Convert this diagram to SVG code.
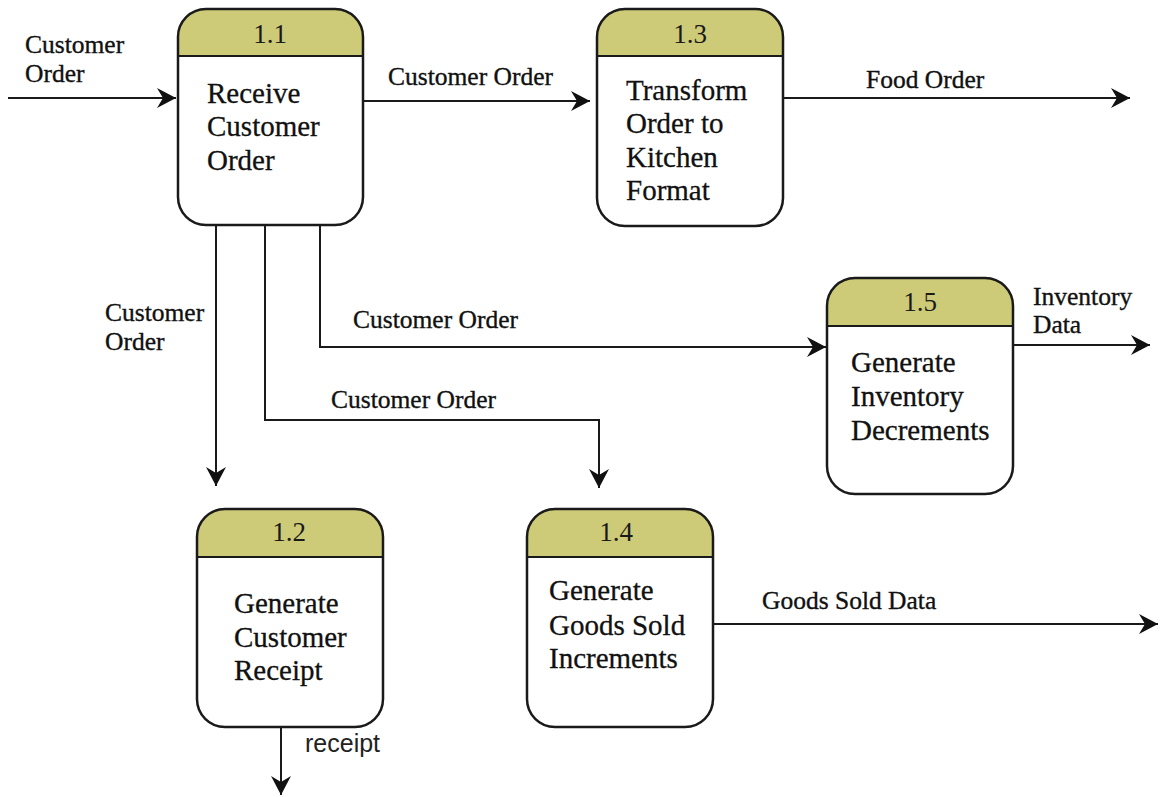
<svg xmlns="http://www.w3.org/2000/svg" width="1161" height="797" viewBox="0 0 1161 797">
<style>
.box{fill:none;stroke:#1a1a1a;stroke-width:2.5}
.bg{fill:#fff}
.hd{fill:#cdcb78}
.sep{stroke:#1a1a1a;stroke-width:2}
.num{font-family:"Liberation Serif","Times New Roman",serif;font-size:27px;fill:#1a1a1a;text-anchor:middle}
.nt{font-family:"Liberation Serif","Times New Roman",serif;font-size:29px;fill:#111;stroke:#111;stroke-width:0.3}
.lb{font-family:"Liberation Serif","Times New Roman",serif;font-size:25.5px;fill:#111;stroke:#111;stroke-width:0.35}
.ls{font-family:"Liberation Sans",Arial,sans-serif;font-size:25px;fill:#222}
.ln{fill:none;stroke:#1a1a1a;stroke-width:2;marker-end:url(#ah)}
</style>
<defs>
<marker id="ah" markerUnits="userSpaceOnUse" viewBox="-19 -11 20 22" refX="0" refY="0" markerWidth="20" markerHeight="22" orient="auto">
<path d="M-19,-10 L0,0 L-19,10 L-13,0 Z" fill="#111"/>
</marker>
</defs>
<rect width="1161" height="797" fill="#fff"/>

<g id="connectors">
<path class="ln" d="M8,98 H176"/>
<path class="ln" d="M363,101 H590"/>
<path class="ln" d="M783,98 H1130"/>
<path class="ln" d="M216,225 V486"/>
<path class="ln" d="M265,225 V420 H599 V488"/>
<path class="ln" d="M320,225 V347 H826"/>
<path class="ln" d="M1013,345 H1150"/>
<path class="ln" d="M713,624 H1158"/>
<path class="ln" d="M281,727 V795"/>
<text class="lb" x="25" y="53">Customer</text>
<text class="lb" x="25" y="82">Order</text>
<text class="lb" x="388" y="85">Customer Order</text>
<text class="lb" x="866" y="88">Food Order</text>
<text class="lb" x="105" y="321">Customer</text>
<text class="lb" x="105" y="350">Order</text>
<text class="lb" x="353" y="328">Customer Order</text>
<text class="lb" x="331" y="408">Customer Order</text>
<text class="lb" x="1033" y="305">Inventory</text>
<text class="lb" x="1033" y="333">Data</text>
<text class="lb" x="762" y="609">Goods Sold Data</text>
<text class="ls" x="305" y="752">receipt</text>
</g>

<g id="n1.1">
<rect class="bg" x="178" y="9" width="185" height="216" rx="28"/>
<path class="hd" d="M178,56 V37 A28,28 0 0 1 206,9 H335 A28,28 0 0 1 363,37 V56 Z"/>
<line class="sep" x1="178" y1="56" x2="363" y2="56"/>
<rect class="box" x="178" y="9" width="185" height="216" rx="28"/>
<text class="num" x="270" y="43">1.1</text>
<text class="nt" x="207" y="103">Receive</text>
<text class="nt" x="207" y="136">Customer</text>
<text class="nt" x="207" y="170">Order</text>
</g>

<g id="n1.3">
<rect class="bg" x="597" y="9" width="186" height="217" rx="28"/>
<path class="hd" d="M597,56 V37 A28,28 0 0 1 625,9 H755 A28,28 0 0 1 783,37 V56 Z"/>
<line class="sep" x1="597" y1="56" x2="783" y2="56"/>
<rect class="box" x="597" y="9" width="186" height="217" rx="28"/>
<text class="num" x="690" y="43">1.3</text>
<text class="nt" x="626" y="100">Transform</text>
<text class="nt" x="626" y="133">Order to</text>
<text class="nt" x="626" y="167">Kitchen</text>
<text class="nt" x="626" y="200">Format</text>
</g>

<g id="n1.5">
<rect class="bg" x="827" y="278" width="186" height="216" rx="28"/>
<path class="hd" d="M827,326 V306 A28,28 0 0 1 855,278 H985 A28,28 0 0 1 1013,306 V326 Z"/>
<line class="sep" x1="827" y1="326" x2="1013" y2="326"/>
<rect class="box" x="827" y="278" width="186" height="216" rx="28"/>
<text class="num" x="920" y="311">1.5</text>
<text class="nt" x="851" y="372">Generate</text>
<text class="nt" x="851" y="406">Inventory</text>
<text class="nt" x="851" y="440">Decrements</text>
</g>

<g id="n1.2">
<rect class="bg" x="197" y="509" width="186" height="218" rx="28"/>
<path class="hd" d="M197,557 V537 A28,28 0 0 1 225,509 H355 A28,28 0 0 1 383,537 V557 Z"/>
<line class="sep" x1="197" y1="557" x2="383" y2="557"/>
<rect class="box" x="197" y="509" width="186" height="218" rx="28"/>
<text class="num" x="289" y="541">1.2</text>
<text class="nt" x="234" y="613">Generate</text>
<text class="nt" x="234" y="647">Customer</text>
<text class="nt" x="234" y="680">Receipt</text>
</g>

<g id="n1.4">
<rect class="bg" x="527" y="509" width="186" height="218" rx="28"/>
<path class="hd" d="M527,557 V537 A28,28 0 0 1 555,509 H685 A28,28 0 0 1 713,537 V557 Z"/>
<line class="sep" x1="527" y1="557" x2="713" y2="557"/>
<rect class="box" x="527" y="509" width="186" height="218" rx="28"/>
<text class="num" x="616" y="541">1.4</text>
<text class="nt" x="549" y="600">Generate</text>
<text class="nt" x="549" y="635">Goods Sold</text>
<text class="nt" x="549" y="668">Increments</text>
</g>
</svg>
